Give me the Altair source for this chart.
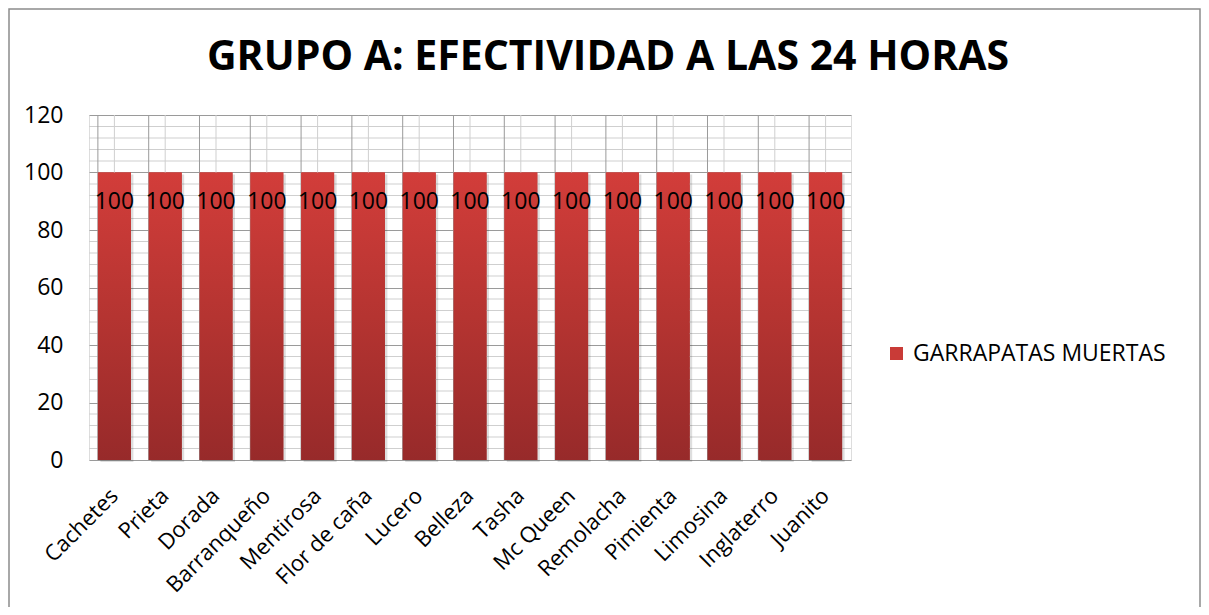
import altair as alt
import pandas as pd

categorias = ["Cachetes", "Prieta", "Dorada", "Barranqueño", "Mentirosa", "Flor de caña",
              "Lucero", "Belleza", "Tasha", "Mc Queen", "Remolacha", "Pimienta",
              "Limosina", "Inglaterro", "Juanito"]
valores = [100, 100, 100, 100, 100, 100, 100, 100, 100, 100, 100, 100, 100, 100, 100]
serie = "GARRAPATAS MUERTAS"
titulo = "GRUPO A: EFECTIVIDAD A LAS 24 HORAS"
y_ticks = [0, 20, 40, 60, 80, 100, 120]
y_minor = [4, 8, 12, 16, 24, 28, 32, 36, 44, 48, 52, 56, 64, 68, 72, 76,
           84, 88, 92, 96, 104, 108, 112, 116]

FONT = "Open Sans"
W, H = 762, 345
LEFT, TOP = 81, 107
SVG_W, SVG_H = 1193, 599

df = pd.DataFrame({"cat": categorias, "valor": valores, "serie": [serie] * len(categorias)})
df_minor = pd.DataFrame({"valor": y_minor})

xscale = alt.Scale(paddingInner=0.35, paddingOuter=0.175)
yscale = alt.Scale(domain=[0, 120])

base = alt.Chart(df)

shadow = base.mark_bar(color="#000000", opacity=0.13, xOffset=2.5, yOffset=2, y2Offset=3).encode(
    x=alt.X("cat:N", sort=categorias, scale=xscale),
    y=alt.Y("valor:Q", scale=yscale),
)

bars_legend = base.mark_bar().encode(
    x=alt.X("cat:N", sort=categorias, scale=xscale, title=None,
            axis=alt.Axis(labelAngle=-45, labelAlign="right", labelBaseline="middle",
                          labelFontSize=22, labelFont=FONT, labelColor="#000000",
                          labelPadding=32, ticks=False, domain=False, grid=False,
                          labelOverlap=False, labelLimit=0)),
    y=alt.Y("valor:Q", scale=yscale, title=None,
            axis=alt.Axis(values=y_ticks, grid=True, gridColor="#9a9a9a", ticks=False,
                          domain=False, labelFontSize=23, labelFont=FONT,
                          labelColor="#000000", labelPadding=26)),
    color=alt.Color("serie:N", scale=alt.Scale(range=["#c93b37"]), title=None,
                    legend=alt.Legend(orient="none", legendX=796, legendY=227,
                                      symbolType="square", symbolSize=169,
                                      labelFontSize=23, labelFont=FONT, labelLimit=0,
                                      labelColor="#000000", symbolStrokeWidth=0,
                                      labelOffset=5)),
)

minor_h = alt.Chart(df_minor).mark_rule(color="#cfcfcf", strokeWidth=1).encode(
    y=alt.Y("valor:Q", scale=yscale))

minor_v = base.mark_rule(color="#cfcfcf", strokeWidth=1).encode(
    x=alt.X("cat:N", sort=categorias, scale=xscale),
    y=alt.value(0), y2=alt.value(H))

major_v = base.mark_rule(color="#9a9a9a", strokeWidth=1).encode(
    x=alt.X("cat:N", sort=categorias, scale=xscale, bandPosition=0),
    y=alt.value(0), y2=alt.value(H))

bars = base.mark_bar(
    color=alt.Gradient(gradient="linear",
                       stops=[alt.GradientStop(color="#d23d3a", offset=0),
                              alt.GradientStop(color="#b53431", offset=0.5),
                              alt.GradientStop(color="#972a2a", offset=1)],
                       x1=0, x2=0, y1=0, y2=1)
).encode(
    x=alt.X("cat:N", sort=categorias, scale=xscale),
    y=alt.Y("valor:Q", scale=yscale),
)

labels = base.mark_text(font=FONT, fontSize=23, color="#000000", dy=29).encode(
    x=alt.X("cat:N", sort=categorias, scale=xscale),
    y=alt.Y("valor:Q", scale=yscale),
    text=alt.Text("valor:Q"),
)

title_mark = alt.Chart(alt.Data(values=[{"t": titulo}])).mark_text(
    font=FONT, fontSize=41, fontWeight="bold", color="#000000",
    align="center", baseline="alphabetic"
).encode(x=alt.value(519), y=alt.value(-45), text="t:N")

border = alt.Chart(alt.Data(values=[{"t": titulo}])).mark_rect(
    fillOpacity=0, fill="#ffffff", stroke="#8c8c8c", strokeWidth=1.5, clip=False
).encode(x=alt.value(-80), x2=alt.value(SVG_W - LEFT - 1), y=alt.value(-106),
         y2=alt.value(SVG_H - TOP + 10))

chart = alt.layer(bars_legend, minor_h, minor_v, major_v, shadow, bars, labels,
                  title_mark, border).properties(
    width=W, height=H,
    autosize=alt.AutoSizeParams(type="none"),
    padding={"left": LEFT, "top": TOP, "right": SVG_W - LEFT - W,
             "bottom": SVG_H - TOP - H},
).configure_view(stroke="#9a9a9a", strokeWidth=1).configure(background="#ffffff")

chart.save("out.html", embed_options={"renderer": "svg", "actions": False})
